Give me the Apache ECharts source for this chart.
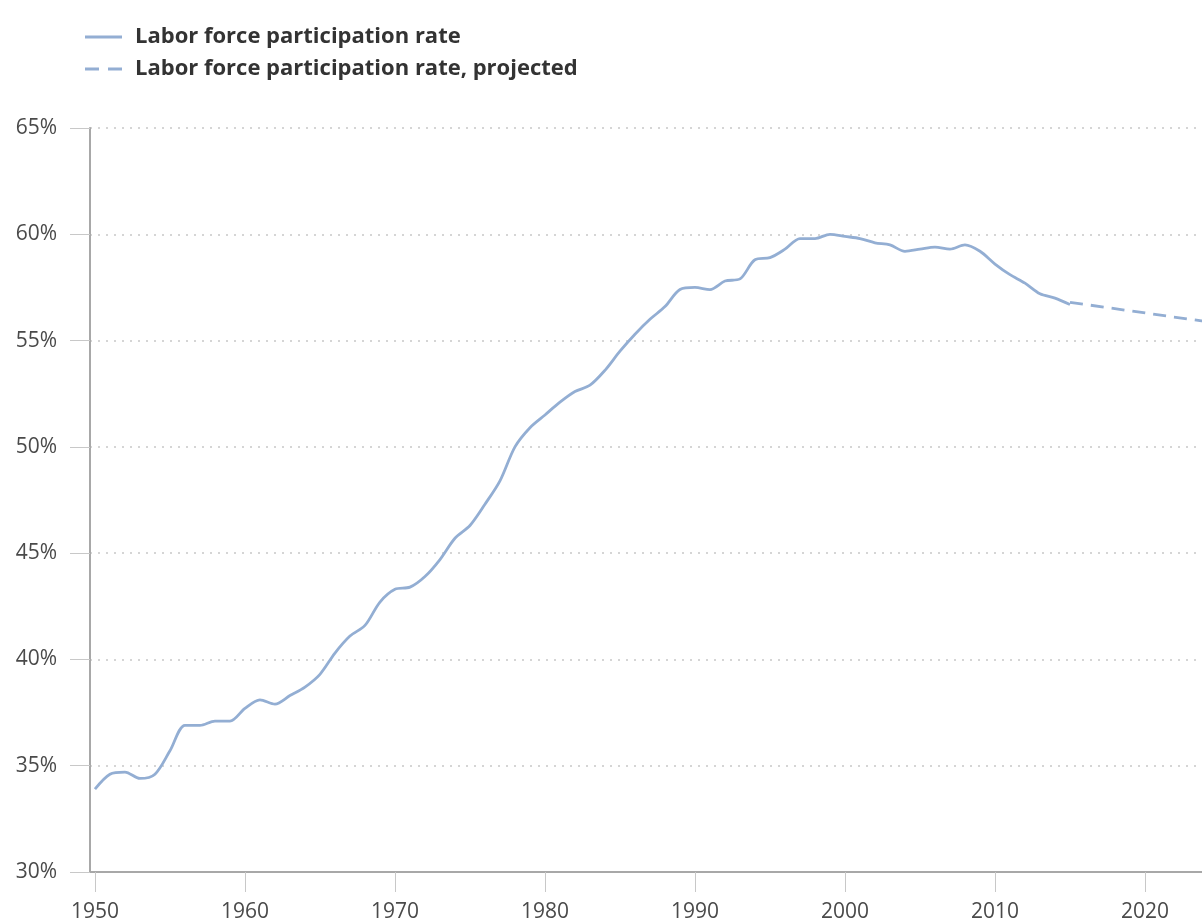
<!DOCTYPE html>
<html>
<head>
<meta charset="utf-8">
<script src="https://cdn.jsdelivr.net/npm/echarts@6/dist/echarts.min.js"></script>
<style>
html,body{margin:0;padding:0;background:#fff;overflow:hidden;}
#chart{width:1210px;height:923px;}
</style>
</head>
<body>
<div id="chart"></div>
<script>
const years = [1950,1951,1952,1953,1954,1955,1956,1957,1958,1959,
  1960,1961,1962,1963,1964,1965,1966,1967,1968,1969,
  1970,1971,1972,1973,1974,1975,1976,1977,1978,1979,
  1980,1981,1982,1983,1984,1985,1986,1987,1988,1989,
  1990,1991,1992,1993,1994,1995,1996,1997,1998,1999,
  2000,2001,2002,2003,2004,2005,2006,2007,2008,2009,
  2010,2011,2012,2013,2014,2015];
const rate = [33.9,34.6,34.7,34.4,34.6,35.7,36.9,36.9,37.1,37.1,
  37.7,38.1,37.9,38.3,38.7,39.3,40.3,41.1,41.6,42.7,
  43.3,43.4,43.9,44.7,45.7,46.3,47.3,48.4,50.0,50.9,
  51.5,52.1,52.6,52.9,53.6,54.5,55.3,56.0,56.6,57.4,
  57.5,57.4,57.8,57.9,58.8,58.9,59.3,59.8,59.8,60.0,
  59.9,59.8,59.6,59.5,59.2,59.3,59.4,59.3,59.5,59.2,
  58.6,58.1,57.7,57.2,57.0,56.7];
const projYears = [2015, 2024];
const projRate = [56.8, 55.9];
const xTicks = [1950,1960,1970,1980,1990,2000,2010,2020];
const seriesNames = ['Labor force participation rate', 'Labor force participation rate, projected'];

const lineColor = '#93aed3';
const chart = echarts.init(document.getElementById('chart'));
chart.setOption({
  animation: false,
  backgroundColor: '#fff',
  legend: {
    orient: 'vertical',
    left: 85,
    top: 26,
    padding: 0,
    itemWidth: 37,
    itemHeight: 3,
    itemGap: 10,
    itemStyle: { borderWidth: 0 },
    textStyle: {
      fontFamily: 'Open Sans',
      fontWeight: 'bold',
      fontSize: 22,
      lineHeight: 22,
      color: '#333',
      padding: [0,0,0,8]
    },
    data: [
      { name: seriesNames[0], icon: 'path://M0,0H37V3H0Z' },
      { name: seriesNames[1], icon: 'path://M0,0H14V3H0Z M23,0H37V3H23Z' }
    ]
  },
  grid: { left: 90, right: 5, top: 128, bottom: 48, containLabel: false },
  xAxis: {
    type: 'value',
    min: 1949.67,
    max: 2024,
    splitLine: { show: false },
    axisLine: { show: true, lineStyle: { color: '#a8a8a8', width: 2 } },
    axisTick: { show: true, length: 20, customValues: xTicks, lineStyle: { color: '#c8c8c8', width: 1 } },
    axisLabel: {
      customValues: xTicks,
      margin: 30,
      fontFamily: 'Open Sans',
      fontSize: 21,
      color: '#4a4a4a',
      formatter: v => String(Math.round(v))
    }
  },
  yAxis: {
    type: 'value',
    min: 30,
    max: 65,
    interval: 5,
    axisLine: { show: true, lineStyle: { color: '#a8a8a8', width: 2 } },
    axisTick: { show: true, length: 20, lineStyle: { color: '#c8c8c8', width: 1 } },
    axisLabel: {
      margin: 33,
      fontFamily: 'Open Sans',
      fontSize: 21,
      color: '#4a4a4a',
      formatter: '{value}%'
    },
    splitLine: { show: true, lineStyle: { color: '#c8c8c8', width: 1.5, type: [2, 6] } }
  },
  series: [
    {
      name: seriesNames[0],
      type: 'line',
      data: years.map((y, i) => [y, rate[i]]),
      showSymbol: false,
      symbol: 'none',
      smooth: 0.3,
      lineStyle: { color: lineColor, width: 2.8 },
      itemStyle: { color: lineColor }
    },
    {
      name: seriesNames[1],
      type: 'line',
      data: projYears.map((y, i) => [y, projRate[i]]),
      showSymbol: false,
      symbol: 'none',
      lineStyle: { color: lineColor, width: 2.8, type: [13, 8] },
      itemStyle: { color: lineColor }
    }
  ]
});
</script>
</body>
</html>
